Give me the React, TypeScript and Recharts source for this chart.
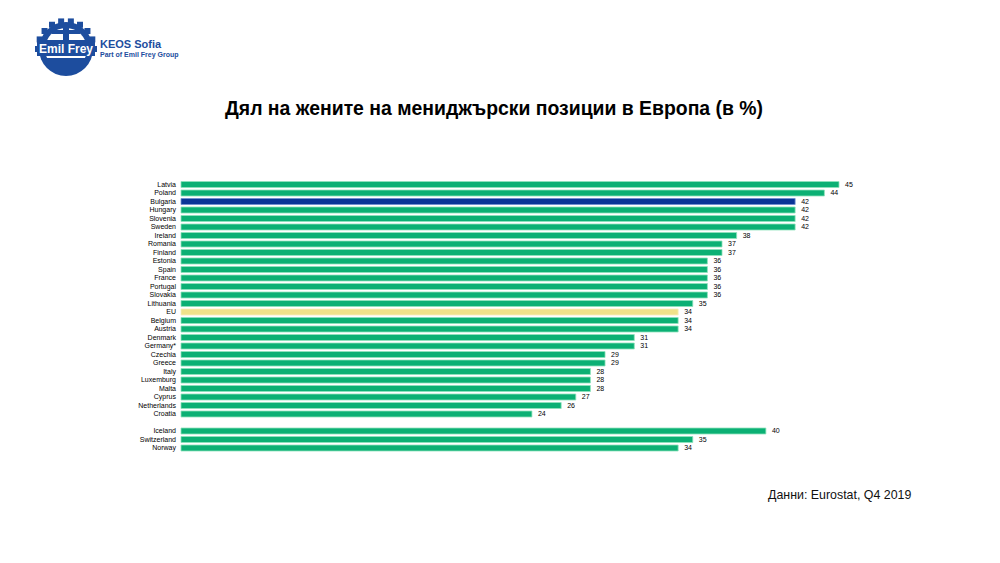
import { BarChart, Bar, XAxis, YAxis, Cell, LabelList } from "recharts";

const countries = [
  "Latvia", "Poland", "Bulgaria", "Hungary", "Slovenia", "Sweden", "Ireland",
  "Romania", "Finland", "Estonia", "Spain", "France", "Portugal", "Slovakia",
  "Lithuania", "EU", "Belgium", "Austria", "Denmark", "Germany*", "Czechia",
  "Greece", "Italy", "Luxemburg", "Malta", "Cyprus", "Netherlands", "Croatia",
  " ", "Iceland", "Switzerland", "Norway",
];

const shares: (number | null)[] = [
  45, 44, 42, 42, 42, 42, 38,
  37, 37, 36, 36, 36, 36, 36,
  35, 34, 34, 34, 31, 31, 29,
  29, 28, 28, 28, 27, 26, 24,
  null, 40, 35, 34,
];

const GREEN = "#0bb074";
const GREEN_EDGE = "#8fe3bd";
const BLUE = "#0a3597";
const BLUE_EDGE = "#6f8fd0";
const YELLOW = "#efe28a";
const YELLOW_EDGE = "#f6efbf";

const chartData = countries.map((name, i) => ({ name, value: shares[i] }));

function fillFor(name: string) {
  if (name === "Bulgaria") return BLUE;
  if (name === "EU") return YELLOW;
  return GREEN;
}

function edgeFor(name: string) {
  if (name === "Bulgaria") return BLUE_EDGE;
  if (name === "EU") return YELLOW_EDGE;
  return GREEN_EDGE;
}

function Logo() {
  const c = "#1d4d9e";
  return (
    <svg width={200} height={90} style={{ position: "absolute", left: 0, top: 0 }}>
      <g>
        <circle cx={66} cy={49} r={27} fill={c} />
        <circle cx={66} cy={49} r={21} fill="#fff" />
        <rect x={63} y={24} width={6} height={24} fill={c} />
        <rect x={52} y={30} width={28} height={4} fill={c} />
        {Array.from({ length: 10 }).map((_, i) => {
          const a = Math.PI + (i * Math.PI) / 9;
          return (
            <rect
              key={i}
              x={66 + Math.cos(a) * 28 - 3}
              y={49 + Math.sin(a) * 28 - 3}
              width={6}
              height={6}
              fill={c}
            />
          );
        })}
        <rect x={37} y={40} width={58} height={16} fill={c} />
        <text x={66} y={53} textAnchor="middle" fill="#fff" fontFamily="Liberation Sans, Arial" fontWeight="bold" fontSize={12}>
          Emil Frey
        </text>
        <path d="M 44 58 A 23 23 0 0 0 88 58 Z" fill={c} />
        <text x={100} y={48} fill={c} fontFamily="Liberation Sans, Arial" fontWeight="bold" fontSize={11}>
          KEOS Sofia
        </text>
        <text x={100} y={57} fill={c} fontFamily="Liberation Sans, Arial" fontWeight="bold" fontSize={7}>
          Part of Emil Frey Group
        </text>
      </g>
    </svg>
  );
}

export default function App() {
  return (
    <div
      style={{
        position: "absolute",
        left: 0,
        top: 0,
        width: 1000,
        height: 563,
        background: "#fff",
        fontFamily: "Liberation Sans, Arial, sans-serif",
      }}
    >
      <Logo />
      <div
        style={{
          position: "absolute",
          left: 0,
          width: 988,
          top: 97,
          textAlign: "center",
          fontSize: 19.4,
          fontWeight: "bold",
          color: "#000",
        }}
      >
        Дял на жените на мениджърски позиции в Европа (в %)
      </div>
      <div style={{ position: "absolute", left: 0, top: 0 }}>
        <BarChart
          width={1000}
          height={563}
          data={chartData}
          layout="vertical"
          margin={{ top: 180, bottom: 111, left: 0, right: 161 }}
          barCategoryGap={1.5}
        >
          <XAxis type="number" domain={[0, 45]} hide />
          <YAxis
            type="category"
            dataKey="name"
            width={181}
            axisLine={false}
            tickLine={false}
            tickSize={0}
            tickMargin={5}
            interval={0}
            tick={{ fontSize: 7, fill: "#000" }}
          />
          <Bar dataKey="value" isAnimationActive={false} strokeWidth={0.8}>
            {chartData.map((d) => (
              <Cell key={d.name} fill={fillFor(d.name)} stroke={edgeFor(d.name)} />
            ))}
            <LabelList
              dataKey="value"
              position="right"
              offset={6}
              fontSize={7}
              fill="#000"
              stroke="none"
            />
          </Bar>
        </BarChart>
      </div>
      <div
        style={{
          position: "absolute",
          left: 768,
          top: 488,
          fontSize: 12.4,
          color: "#111",
        }}
      >
        Данни: Eurostat, Q4 2019
      </div>
    </div>
  );
}
